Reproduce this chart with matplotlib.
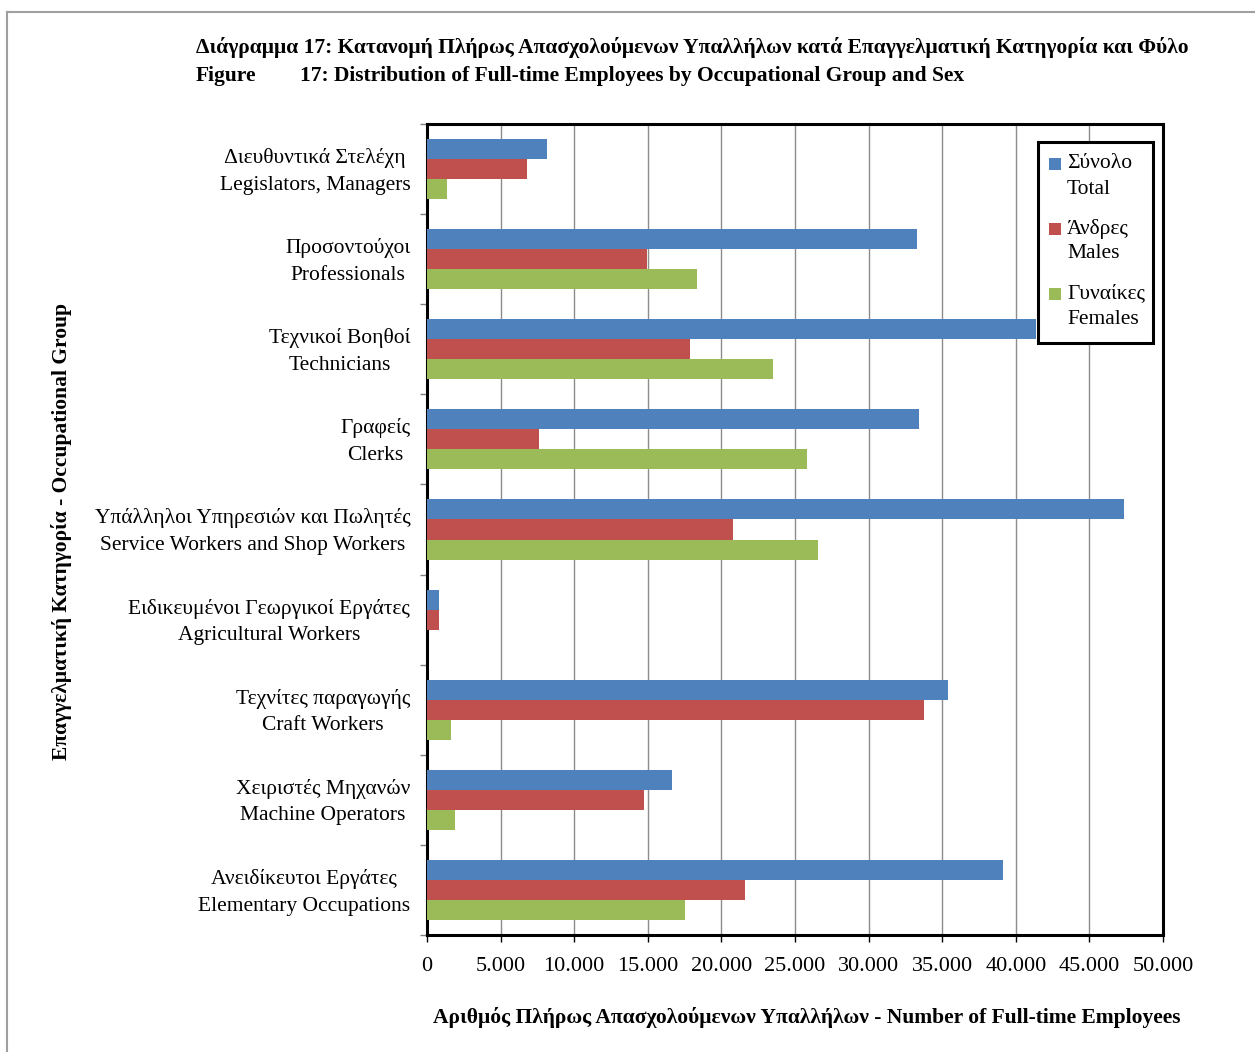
import matplotlib
matplotlib.use("Agg")
import matplotlib.pyplot as plt
import numpy as np
from matplotlib.patches import Rectangle
from matplotlib.lines import Line2D
from matplotlib.ticker import FuncFormatter, FixedLocator

plt.rcParams['font.family'] = ['Liberation Serif', 'DejaVu Serif']

categories = [
    "Διευθυντικά Στελέχη\nLegislators, Managers",
    "Προσοντούχοι\nProfessionals",
    "Τεχνικοί Βοηθοί\nTechnicians",
    "Γραφείς\nClerks",
    "Υπάλληλοι Υπηρεσιών και Πωλητές\nService Workers and Shop Workers",
    "Ειδικευμένοι Γεωργικοί Εργάτες\nAgricultural Workers",
    "Τεχνίτες παραγωγής\nCraft Workers",
    "Χειριστές Μηχανών\nMachine Operators",
    "Ανειδίκευτοι Εργάτες\nElementary Occupations",
]
total = [8150, 33280, 41340, 33400, 47320, 800, 35400, 16650, 39120]
males = [6800, 14950, 17870, 7600, 20800, 800, 33770, 14760, 21600]
females = [1360, 18350, 23500, 25800, 26550, 30, 1600, 1900, 17550]
series_names = ["Σύνολο\nTotal", "Άνδρες\nMales", "Γυναίκες\nFemales"]
colors = ["#4F81BD", "#C0504D", "#9BBB59"]
xticks = [0, 5000, 10000, 15000, 20000, 25000, 30000, 35000, 40000, 45000, 50000]

W, H = 1255, 1052
fig = plt.figure(figsize=(W / 100, H / 100), dpi=100)

def fx(px):
    return px / W

def fy(py):
    return 1 - py / H

FS = 15.5

ax = fig.add_axes([fx(427), fy(935), fx(1163) - fx(427), fy(124) - fy(935)])

y = np.arange(len(categories))
bh = 0.222
for i, (vals, c) in enumerate(zip([total, males, females], colors)):
    ax.barh(y + (i - 1) * bh, vals, height=bh, color=c, edgecolor='none', zorder=3)

ax.set_xlim(0, 50000)
ax.set_ylim(len(categories) - 0.5, -0.5)
ax.xaxis.set_major_locator(FixedLocator(xticks))
ax.xaxis.set_major_formatter(FuncFormatter(lambda v, p: f"{int(v):,}".replace(",", ".")))
ax.grid(axis='x', color='#8C8C8C', linewidth=1.0, zorder=0)
ax.set_axisbelow(True)

# label anchors nudged slightly up (about 4 px) to sit like the original
ax.set_yticks(y - 0.045)
ax.set_yticklabels(categories, fontsize=FS, multialignment='center', linespacing=1.55)
ax.yaxis.set_minor_locator(FixedLocator(np.arange(-0.5, len(categories), 1.0)))
ax.tick_params(axis='y', which='major', length=0, pad=12)
ax.tick_params(axis='y', which='minor', length=5, width=1, color='#808080', direction='out')
ax.tick_params(axis='x', which='major', length=5, width=1, color='black', direction='out',
               labelsize=16, pad=11)

for s in ax.spines.values():
    s.set_linewidth(2.2)
    s.set_color('black')

# Titles
fig.text(fx(196), fy(48),
         "Διάγραμμα 17: Κατανομή Πλήρως Απασχολούμενων Υπαλλήλων κατά Επαγγελματική Κατηγορία και Φύλο",
         fontsize=FS, fontweight='bold', ha='left', va='center')
fig.text(fx(196), fy(76), "Figure", fontsize=FS, fontweight='bold', ha='left', va='center')
fig.text(fx(300), fy(76), "17: Distribution of Full-time Employees by Occupational Group and Sex",
         fontsize=FS, fontweight='bold', ha='left', va='center')

fig.text(fx(807), fy(1018),
         "Αριθμός Πλήρως Απασχολούμενων Υπαλλήλων - Number of Full-time Employees",
         fontsize=FS, fontweight='bold', ha='center', va='center')
fig.text(fx(62), fy(532), "Επαγγελματική Κατηγορία - Occupational Group",
         fontsize=FS, fontweight='bold', ha='center', va='center', rotation=90)

# Legend (manual, to keep marker aligned with first label line)
fig.patches.append(Rectangle((fx(1038), fy(343)), fx(1153) - fx(1038), fy(142) - fy(343),
                             transform=fig.transFigure, facecolor='white', edgecolor='black',
                             linewidth=2.2, zorder=5))
centers = [164, 229, 294]
for name, c, cy in zip(series_names, colors, centers):
    fig.patches.append(Rectangle((fx(1049), fy(cy + 6)), fx(12), 12 / H,
                                 transform=fig.transFigure, facecolor=c, edgecolor='none', zorder=6))
    l1, l2 = name.split("\n")
    fig.text(fx(1067), fy(cy), l1, fontsize=FS, ha='left', va='center', zorder=7)
    fig.text(fx(1067), fy(cy + 25), l2, fontsize=FS, ha='left', va='center', zorder=7)

# Figure border (gray)
fig.add_artist(Line2D([fx(7), fx(7)], [fy(12), 0], transform=fig.transFigure, color='#A0A0A0', linewidth=1.5))
fig.add_artist(Line2D([fx(7), 1], [fy(12), fy(12)], transform=fig.transFigure, color='#A0A0A0', linewidth=1.5))

fig.savefig("out.png", dpi=100, facecolor='white')
